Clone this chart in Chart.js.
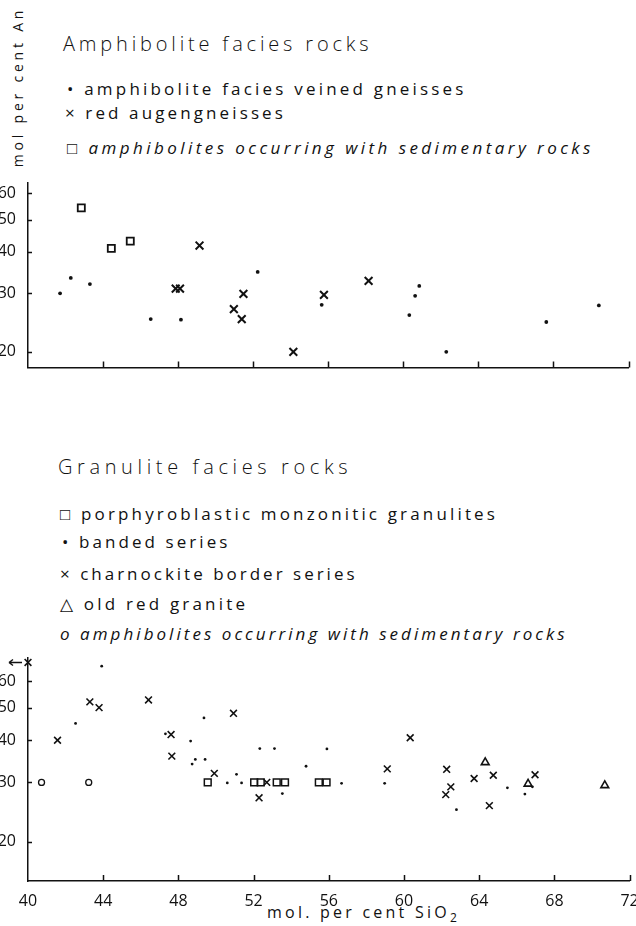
<!DOCTYPE html>
<html><head><meta charset="utf-8">
<script src="https://cdn.jsdelivr.net/npm/chart.js@4.4.1/dist/chart.umd.min.js"></script>
<style>
html,body{margin:0;padding:0;background:#fff;width:636px;height:926px;overflow:hidden;position:relative;font-family:"Open Sans",sans-serif;color:#111}
canvas{position:absolute;left:0}
.t{position:absolute;white-space:nowrap;line-height:1;transform:translateY(-50%)}
.title{font-size:20px;font-weight:300}
.leg{font-size:17px;font-weight:500}
.it{font-style:italic}
.ytitle{font-size:14px;font-weight:400;transform:translate(-50%,-50%) rotate(-90deg)}
.xtitle{font-size:16px;font-weight:400}
.xtitle sub{font-size:12px;vertical-align:-4px;line-height:0}
</style></head><body>
<div class="t ytitle" style="left:18px;top:86.5px" data-w="157">mol per cent An</div>

<div class="t title" style="left:63px;top:44px" data-w="306">Amphibolite facies rocks</div>
<div class="t leg" style="left:67px;top:88px" data-w="396">• amphibolite facies veined gneisses</div>
<div class="t leg" style="left:65px;top:112px" data-w="218">× red augengneisses</div>
<div class="t leg it" style="left:67px;top:147px" data-w="523">□ amphibolites occurring with sedimentary rocks</div>

<div class="t title" style="left:58px;top:467px" data-w="290">Granulite facies rocks</div>
<div class="t leg" style="left:60px;top:513px" data-w="435">□ porphyroblastic monzonitic granulites</div>
<div class="t leg" style="left:62px;top:541px" data-w="165">• banded series</div>
<div class="t leg" style="left:60px;top:573px" data-w="295">× charnockite border series</div>
<div class="t leg" style="left:60px;top:603px" data-w="185">△ old red granite</div>
<div class="t leg it" style="left:60px;top:633px" data-w="505">o amphibolites occurring with sedimentary rocks</div>

<div class="t xtitle" style="left:267px;top:912px" data-w="190">mol. per cent SiO<sub>2</sub></div>

<canvas id="top" width="636" height="200" style="top:175px"></canvas>
<canvas id="bot" width="636" height="276" style="top:650px"></canvas>

<script>
// ---------- data ----------
const xTicks = [40, 44, 48, 52, 56, 60, 64, 68, 72];
const yTicks = [20, 30, 40, 50, 60];

// Amphibolite facies rocks
const veinedX = [41.71, 42.28, 43.30, 46.54, 48.15, 52.24, 55.65, 60.32, 60.63, 60.85, 62.29, 67.62, 70.42];
const veinedY = [30.0, 33.4, 32.0, 25.1, 25.0, 34.8, 27.7, 25.8, 29.5, 31.6, 20.0, 24.6, 27.6];
const augenX = [47.87, 48.10, 49.14, 50.97, 51.39, 51.48, 54.14, 55.77, 58.15];
const augenY = [31.0, 31.0, 41.8, 26.9, 25.1, 29.9, 20.0, 29.7, 32.7];
const amphSedTopX = [42.84, 44.44, 45.45];
const amphSedTopY = [54.3, 41.0, 43.1];

// Granulite facies rocks
const porphX = [49.56, 52.03, 52.38, 53.23, 53.67, 55.47, 55.88];
const porphY = [30, 30, 30, 30, 30, 30, 30];
const bandedX = [42.53, 43.92, 47.31, 48.65, 48.73, 48.90, 49.36, 49.42, 50.60, 51.09, 51.36, 52.33, 53.11, 53.53, 54.79, 55.90, 56.68, 58.97, 62.79, 65.50, 66.43, 66.83];
const bandedY = [44.9, 66.4, 41.8, 39.8, 34.0, 35.1, 46.6, 35.1, 29.9, 31.7, 29.9, 37.8, 37.8, 27.8, 33.5, 37.7, 29.8, 29.8, 24.9, 28.9, 27.7, 29.1];
const charnX = [40.0, 41.57, 43.29, 43.78, 46.41, 47.61, 47.65, 49.91, 50.93, 52.29, 52.70, 59.11, 60.33, 62.22, 62.27, 62.49, 63.73, 64.54, 64.75, 66.97];
const charnY = [68.1, 40.0, 52.0, 50.0, 52.7, 41.6, 35.9, 31.9, 48.1, 27.0, 30.0, 32.9, 40.7, 27.6, 32.8, 29.1, 30.8, 25.6, 31.5, 31.6];
const charnOffScaleIndex = 0; // plotted at the axis with an arrow (SiO2 below 40)
const graniteX = [64.32, 66.60, 70.68];
const graniteY = [34.4, 29.7, 29.4];
const amphSedBotX = [40.72, 43.23];
const amphSedBotY = [30, 30];

// ---------- helpers ----------
const INK = '#111';
const pts = (xs, ys) => xs.map((x, i) => ({x, y: ys[i]}));
function fitText(){
  document.querySelectorAll('[data-w]').forEach(el => {
    el.style.letterSpacing = '0px';
    const w0 = el.offsetWidth;
    const n = [...el.textContent].length;
    el.style.letterSpacing = ((+el.dataset.w - w0) / (n - 1)) + 'px';
  });
}
fitText();
if (document.fonts && document.fonts.ready) document.fonts.ready.then(fitText);

const inwardTicks = {
  id: 'inwardTicks',
  afterDraw(chart, args, opts) {
    const {ctx, chartArea: a, scales: {x, y}} = chart;
    ctx.save();
    ctx.strokeStyle = INK; ctx.lineWidth = 1.5;
    ctx.beginPath();
    x.ticks.forEach(t => {
      if (t.value === x.min) return;
      const px = Math.round(x.getPixelForValue(t.value)) + 0.5;
      ctx.moveTo(px, a.bottom); ctx.lineTo(px, a.bottom - opts.xLen);
    });
    y.ticks.forEach(t => {
      const py = Math.round(y.getPixelForValue(t.value)) + 0.5;
      ctx.moveTo(a.left, py); ctx.lineTo(a.left + opts.yLen, py);
    });
    ctx.stroke();
    const ar = opts.arrow;
    if (ar) {
      const el = chart.getDatasetMeta(ar.dataset).data[ar.index];
      const px = el.x, py = el.y;
      ctx.lineWidth = 1.4;
      ctx.beginPath();
      ctx.moveTo(px - 6, py); ctx.lineTo(px - 19, py);
      ctx.moveTo(px - 19, py); ctx.lineTo(px - 15, py - 3);
      ctx.moveTo(px - 19, py); ctx.lineTo(px - 15, py + 3);
      ctx.stroke();
    }
    ctx.restore();
  }
};

function makeScales(yMin, yMax, xHeight, showXLabels) {
  const font = {family: '"Open Sans", sans-serif', size: 16, weight: '400'};
  return {
    x: {
      type: 'linear', min: 40, max: 72, bounds: 'data',
      afterBuildTicks: s => { s.ticks = xTicks.map(v => ({value: v})); },
      afterFit: s => { s.paddingLeft = 0; s.paddingRight = 0; s.height = xHeight; },
      grid: {display: false},
      border: {display: true, color: INK, width: 1.5},
      ticks: {display: showXLabels, color: INK, font, padding: 3, maxRotation: 0, autoSkip: false,
              callback: v => String(v)}
    },
    y: {
      type: 'logarithmic', min: yMin, max: yMax, bounds: 'data',
      afterBuildTicks: s => { s.ticks = yTicks.map(v => ({value: v})); },
      afterFit: s => { s.width = 28; s.paddingTop = 0; s.paddingBottom = 0; },
      grid: {display: false},
      border: {display: true, color: INK, width: 1.5},
      ticks: {color: INK, font, padding: 4, autoSkip: false, callback: v => String(v)}
    }
  };
}

const common = {
  responsive: false, animation: false, events: [],
  plugins: {legend: {display: false}, tooltip: {enabled: false}}
};

new Chart(document.getElementById('top'), {
  type: 'scatter',
  data: {datasets: [
    {label: 'amphibolite facies veined gneisses', data: pts(veinedX, veinedY), pointStyle: 'circle', pointRadius: 1.9,
     backgroundColor: INK, borderColor: INK, borderWidth: 0, clip: false},
    {label: 'red augengneisses', data: pts(augenX, augenY), pointStyle: 'crossRot', pointRadius: 5.5,
     borderColor: INK, borderWidth: 2, clip: false},
    {label: 'amphibolites occurring with sedimentary rocks', data: pts(amphSedTopX, amphSedTopY), pointStyle: 'rect', pointRadius: 5,
     backgroundColor: 'rgba(0,0,0,0)', borderColor: INK, borderWidth: 1.8, clip: false}
  ]},
  options: Object.assign({}, common, {
    layout: {padding: {left: 0, right: 3, top: 8, bottom: 7}},
    scales: makeScales(17.94, 64.5, 0, false),
    plugins: Object.assign({}, common.plugins, {inwardTicks: {xLen: 6, yLen: 4}})
  }),
  plugins: [inwardTicks]
});

new Chart(document.getElementById('bot'), {
  type: 'scatter',
  data: {datasets: [
    {label: 'porphyroblastic monzonitic granulites', data: pts(porphX, porphY), pointStyle: 'rect', pointRadius: 4.8,
     backgroundColor: 'rgba(0,0,0,0)', borderColor: INK, borderWidth: 1.5, clip: false},
    {label: 'banded series', data: pts(bandedX, bandedY), pointStyle: 'circle', pointRadius: 1.4,
     backgroundColor: INK, borderColor: INK, borderWidth: 0, clip: false},
    {label: 'charnockite border series', data: pts(charnX, charnY), pointStyle: 'crossRot', pointRadius: 4.8,
     borderColor: INK, borderWidth: 1.6, clip: false},
    {label: 'old red granite', data: pts(graniteX, graniteY), pointStyle: 'triangle', pointRadius: 4.5,
     backgroundColor: 'rgba(0,0,0,0)', borderColor: INK, borderWidth: 1.6, clip: false},
    {label: 'amphibolites occurring with sedimentary rocks', data: pts(amphSedBotX, amphSedBotY), pointStyle: 'circle', pointRadius: 3,
     backgroundColor: 'rgba(0,0,0,0)', borderColor: INK, borderWidth: 1.3, clip: false}
  ]},
  options: Object.assign({}, common, {
    layout: {padding: {left: 0, right: 4, top: 8, bottom: 0}},
    scales: makeScales(15.29, 70.2, 45, true),
    plugins: Object.assign({}, common.plugins, {inwardTicks: {xLen: 6, yLen: 4, arrow: {dataset: 2, index: charnOffScaleIndex}}})
  }),
  plugins: [inwardTicks]
});
</script>
</body></html>
